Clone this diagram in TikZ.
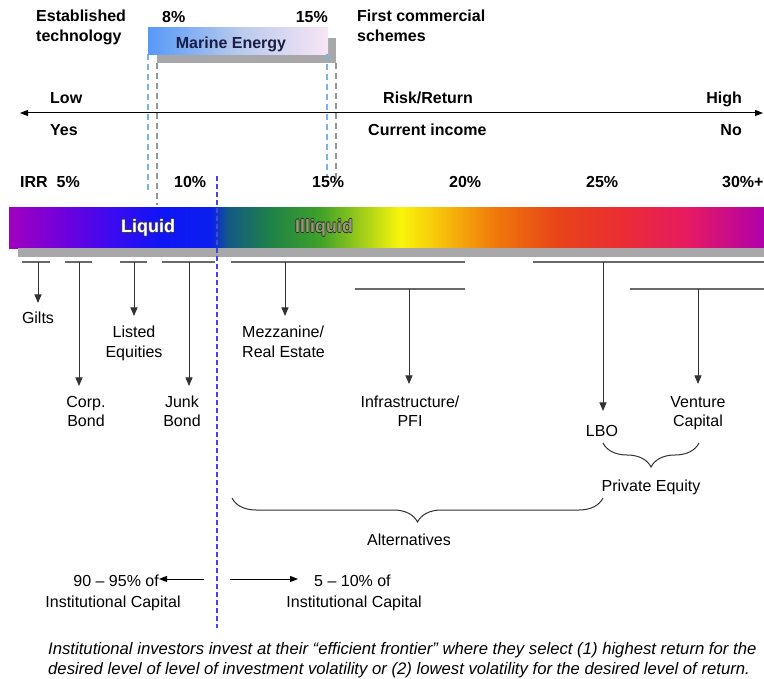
\documentclass[tikz,border=0pt]{standalone}
\usepackage{fontspec}
\setmainfont{Liberation Sans}
\usetikzlibrary{arrows.meta,decorations.pathreplacing}
\definecolor{navy}{RGB}{25,30,70}
\definecolor{barc}{RGB}{105,105,105}
\definecolor{linec}{RGB}{50,50,50}
\definecolor{hatchc}{RGB}{168,168,170}
\definecolor{mblue}{RGB}{120,178,235}
\definecolor{mgray}{RGB}{150,150,150}
\definecolor{splitc}{RGB}{70,70,225}
\definecolor{illc}{RGB}{150,155,115}
\pgfdeclarehorizontalshading{rainbow}{100bp}{rgb(0bp)=(0.63,0,0.75); rgb(25bp)=(0.63,0,0.75); rgb(28.4bp)=(0.45,0,0.86); rgb(31.7bp)=(0.24,0.04,0.94); rgb(35bp)=(0.06,0.08,0.96); rgb(38.3bp)=(0.04,0.12,0.94); rgb(39.5bp)=(0.08,0.35,0.52); rgb(42.3bp)=(0.12,0.51,0.28); rgb(45.6bp)=(0.25,0.63,0.16); rgb(49.2bp)=(0.75,0.86,0.08); rgb(50.9bp)=(0.98,0.96,0.04); rgb(54.2bp)=(0.96,0.71,0.04); rgb(57.2bp)=(0.94,0.47,0.04); rgb(61.5bp)=(0.91,0.26,0.1); rgb(65.5bp)=(0.92,0.18,0.2); rgb(70.1bp)=(0.9,0.1,0.39); rgb(75bp)=(0.69,0,0.67); rgb(100bp)=(0.69,0,0.67)}
\pgfdeclarehorizontalshading{marine}{100bp}{rgb(0bp)=(0.34,0.6,0.97); rgb(25bp)=(0.34,0.6,0.97); rgb(50bp)=(0.72,0.79,0.93); rgb(75bp)=(0.97,0.9,0.96); rgb(100bp)=(0.97,0.9,0.96)}
\newcommand\outl[3]{\leavevmode\rlap{\kern-0.7pt\textcolor{#1}{#3}}\rlap{\kern0.7pt\textcolor{#1}{#3}}\rlap{\raisebox{0.7pt}{\textcolor{#1}{#3}}}\rlap{\raisebox{-0.7pt}{\textcolor{#1}{#3}}}\textcolor{#2}{#3}}
\begin{document}
\begin{tikzpicture}[x=1pt,y=-1pt,
  lbl/.style={inner sep=0pt, font=\fontsize{16}{20}\selectfont, align=center},
  blbl/.style={inner sep=0pt, font=\fontsize{16}{20}\selectfont\bfseries, align=left},
  bar/.style={line width=2.6pt, draw=barc},
  drop/.style={draw=linec, line width=0.9pt, -{Triangle[width=7pt,length=8.5pt]}},
  mdash/.style={draw=mblue, line width=1.6pt, dash pattern=on 6pt off 4pt},
  gdash/.style={draw=mgray, line width=1.3pt, dash pattern=on 6pt off 4pt},
  split/.style={draw=splitc, line width=1.2pt, dash pattern=on 5pt off 3pt},
  brc/.style={draw=linec, line width=1pt, decorate, decoration={brace, mirror, amplitude=24pt}},
  foot/.style={inner sep=0pt, font=\fontsize{16.7}{20}\selectfont\itshape, anchor=base west}]
\useasboundingbox (0,0) rectangle (764,679);
\fill[white] (0,0) rectangle (764,679);

% Marine energy box
\fill[hatchc] (157,38) rectangle (336,63);
\node[shade, shading=marine, minimum width=180pt, minimum height=27pt, inner sep=0pt, anchor=north west] (mbox) at (148,27) {};
\node[blbl, text=navy, anchor=base] (mlabel) at (231,49) {Marine Energy};
\draw[mdash] (148,54) -- (148,193);
\draw[gdash] (157,63) -- (157,205);
\draw[mdash] (327,54) -- (327,177);
\draw[gdash] (336,63) -- (336,180);

% top texts
\node[blbl, anchor=base west] (est) at (36,42) {Established\\technology};
\node[blbl, anchor=base west] (p8) at (162,23) {8\%};
\node[blbl, anchor=base east] (p15t) at (328,23) {15\%};
\node[blbl, anchor=base west] (fcs) at (357,42) {First commercial\\schemes};

% risk axis
\coordinate (rl) at (20,113);
\coordinate (rr) at (763,113);
\draw[line width=1pt, {Triangle[width=6pt,length=8pt]}-{Triangle[width=6pt,length=8pt]}] (rl) -- (rr);
\node[blbl, anchor=base west] (low) at (50,104) {Low};
\node[blbl, anchor=base west] (rret) at (383,104) {Risk/Return};
\node[blbl, anchor=base east] (high) at (742,104) {High};
\node[blbl, anchor=base west] (yes) at (50,136) {Yes};
\node[blbl, anchor=base west] (cinc) at (368,136) {Current income};
\node[blbl, anchor=base east] (no) at (742,136) {No};
\node[blbl, anchor=base west] (irr) at (20,188) {IRR\ \ 5\%};
\node[blbl, anchor=base west] (p10) at (174,188) {10\%};
\node[blbl, anchor=base west] (p15) at (312,188) {15\%};
\node[blbl, anchor=base west] (p20) at (449,188) {20\%};
\node[blbl, anchor=base west] (p25) at (586,188) {25\%};
\node[blbl, anchor=base west] (p30) at (722,188) {30\%+};

% rainbow bar
\node[shade, shading=rainbow, minimum width=755pt, minimum height=41pt, inner sep=0pt, anchor=north west] (rb) at (9,207) {};
\fill[hatchc] (18,248) rectangle (764,257);
\node[inner sep=0pt, font=\fontsize{18}{20}\selectfont\bfseries] (liq) at (148,228) {\outl{black!75}{white}{Liquid}};
\node[inner sep=0pt, font=\fontsize{18}{20}\selectfont\bfseries] (illiq) at (324,228) {\outl{black!85}{illc}{Illiquid}};

% split line
\draw[split] (217,176) -- (217,628);

% bars
\draw[bar] (22,262) -- (50,262);
\draw[bar] (65,262) -- (92,262);
\draw[bar] (120,262) -- (147,262);
\draw[bar] (162,262) -- (215,262);
\draw[bar] (231,262) -- (465,262);
\draw[bar] (533,262) -- (764,262);
\draw[bar] (355,289) -- (465,289);
\draw[bar] (630,289) -- (764,289);

% labels (base = baseline of last line)
\node[lbl, anchor=base] (gilts) at (38,324) {Gilts};
\node[lbl, anchor=base] (listed) at (134,358) {Listed\\Equities};
\node[lbl, anchor=base west, align=left] (mezz) at (242,358) {Mezzanine/\\Real Estate};
\node[lbl, anchor=base] (corp) at (86,427) {Corp.\\Bond};
\node[lbl, anchor=base] (junk) at (182,427) {Junk\\Bond};
\node[lbl, anchor=base] (infra) at (410,427) {Infrastructure/\\PFI};
\node[lbl, anchor=base] (lbo) at (602,436) {LBO};
\node[lbl, anchor=base] (vc) at (698,427) {Venture\\Capital};
\node[lbl, anchor=base] (pe) at (651,491) {Private Equity};
\node[lbl, anchor=base] (alt) at (409,545) {Alternatives};

% drop arrows
\coordinate (sg) at (38,262);  \coordinate (eg) at (38,303);
\coordinate (sc) at (79,262);  \coordinate (ec) at (79,386);
\coordinate (sl) at (134,262); \coordinate (el) at (134,316);
\coordinate (sj) at (189,262); \coordinate (ej) at (189,386);
\coordinate (sm) at (285,262); \coordinate (em) at (285,316);
\coordinate (si) at (409,289); \coordinate (ei) at (409,384);
\coordinate (sb) at (603,262); \coordinate (eb) at (603,411);
\coordinate (sv) at (698,289); \coordinate (ev) at (698,384);
\draw[drop] (sg) -- (eg);
\draw[drop] (sc) -- (ec);
\draw[drop] (sl) -- (el);
\draw[drop] (sj) -- (ej);
\draw[drop] (sm) -- (em);
\draw[drop] (si) -- (ei);
\draw[drop] (sb) -- (eb);
\draw[drop] (sv) -- (ev);

% braces
\coordinate (bpa) at (603,443); \coordinate (bpb) at (699,443);
\draw[brc] (bpa) -- (bpb);
\coordinate (baa) at (232,498); \coordinate (bab) at (603,498);
\draw[brc] (baa) -- (bab);

% capital split
\node[lbl, anchor=base east] (l9095) at (159,586) {90 -- 95\% of};
\node[lbl, anchor=base] (lic) at (113,607) {Institutional Capital};
\node[lbl, anchor=base west] (r510) at (314,586) {5 -- 10\% of};
\node[lbl, anchor=base] (ric) at (354,607) {Institutional Capital};
\coordinate (al) at (204,579);
\coordinate (ar) at (230,579);
\draw[line width=1pt, -{Triangle[width=6pt,length=8pt]}] (al) -- (l9095.east |- al);
\draw[line width=1pt, -{Triangle[width=6pt,length=8pt]}] (ar) -- ([xshift=-16pt]r510.west |- ar);

% footnote
\node[foot] (f1) at (48,654) {Institutional investors invest at their “efficient frontier” where they select (1) highest return for the};
\node[foot] (f2) at (48,674) {desired level of level of investment volatility or (2) lowest volatility for the desired level of return.};
\end{tikzpicture}
\end{document}
